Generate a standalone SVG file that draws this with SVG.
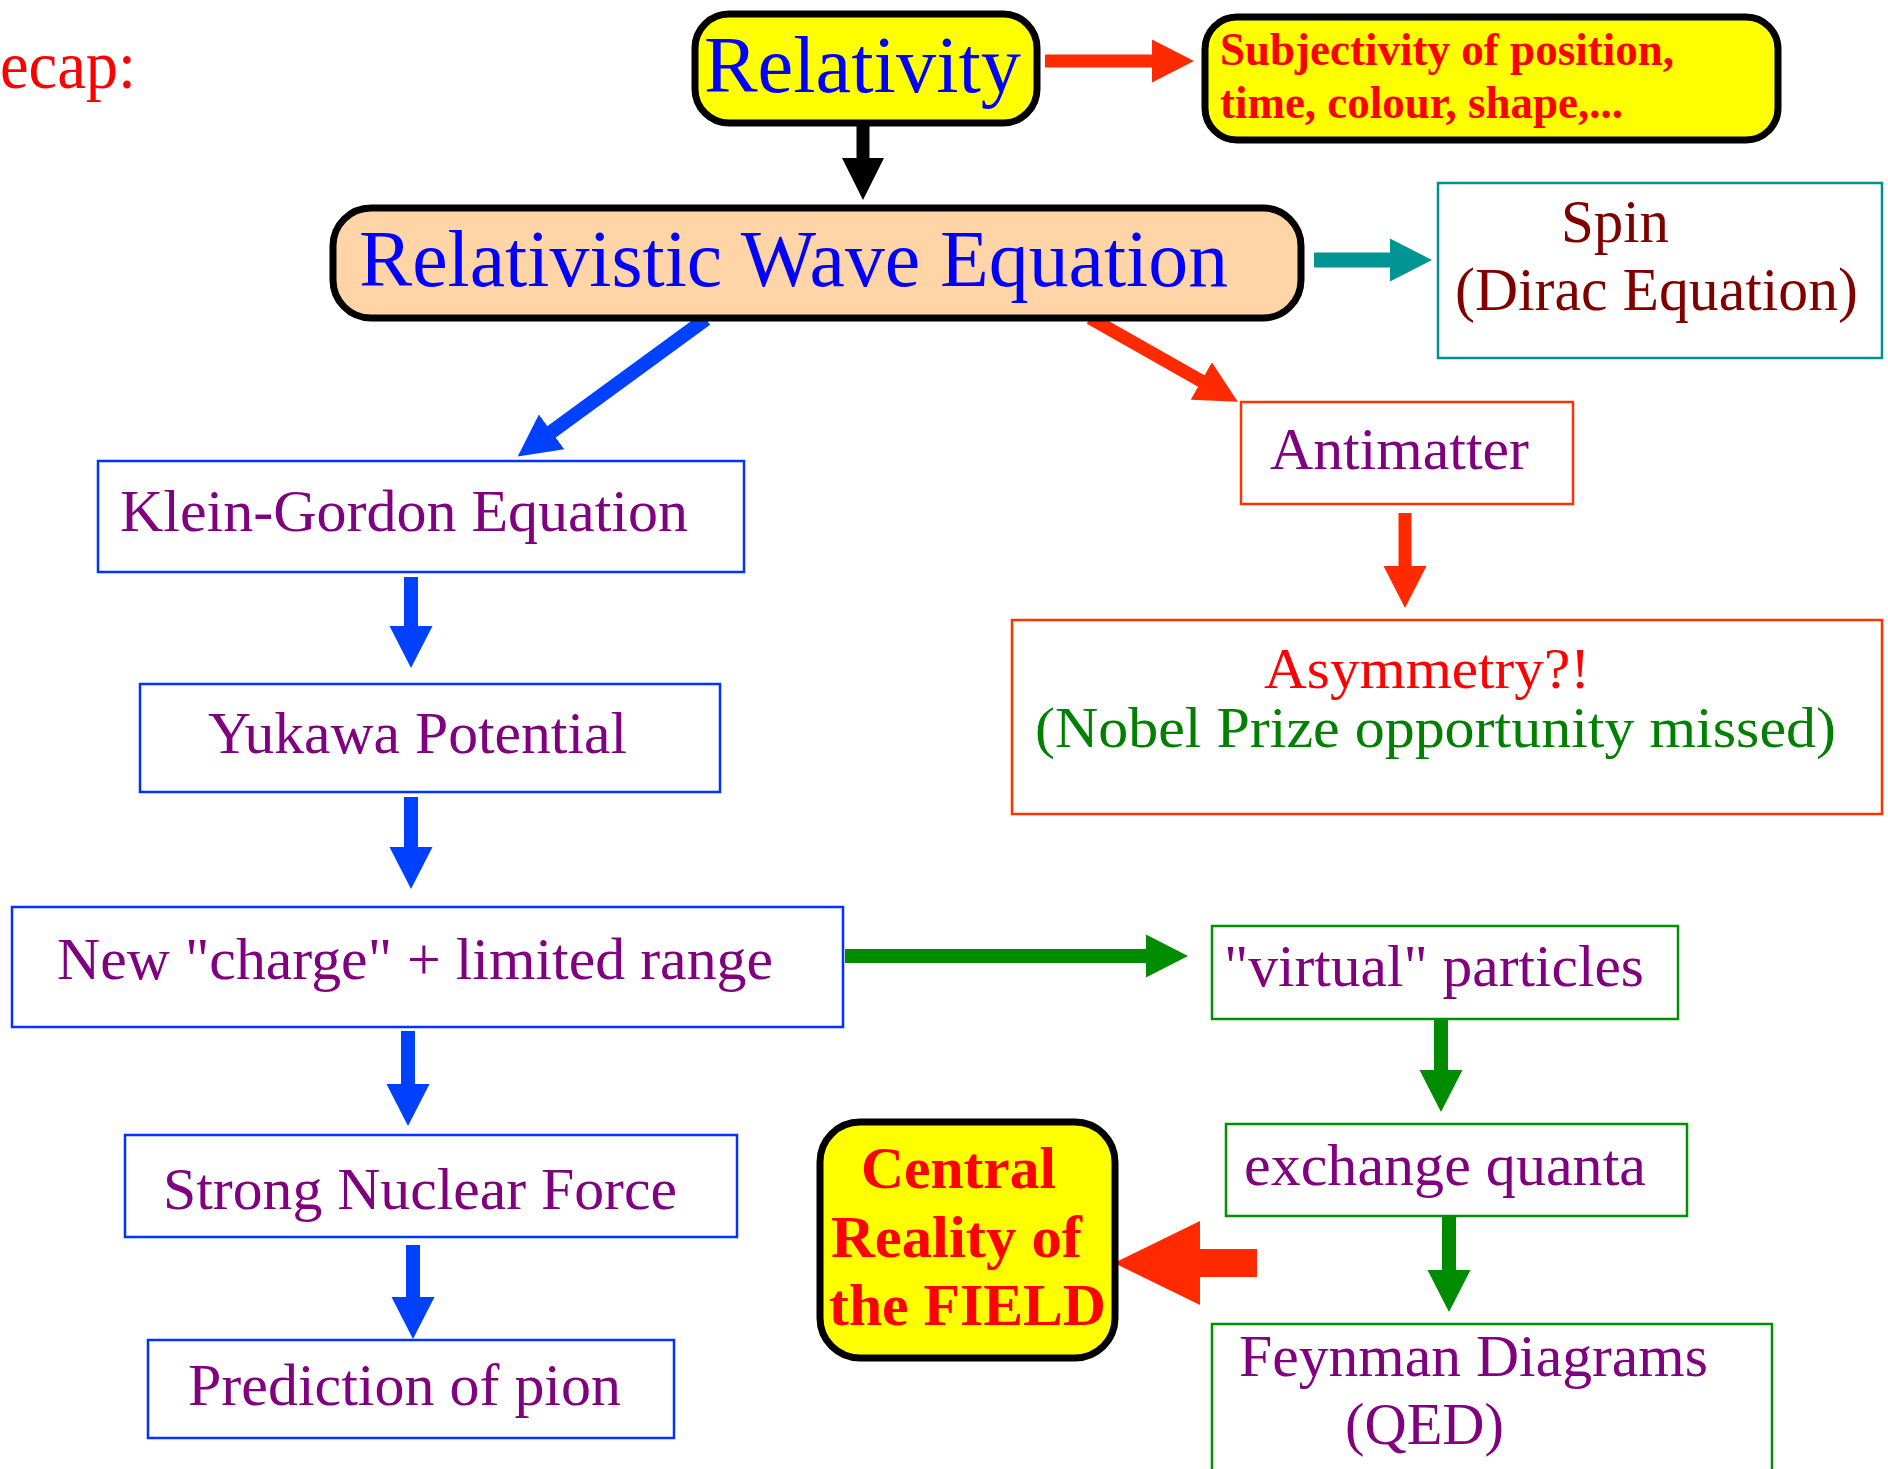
<svg xmlns="http://www.w3.org/2000/svg" width="1888" height="1469" viewBox="0 0 1888 1469">
<style>
  text { font-family: "Liberation Serif", "Times New Roman", serif; }
  .b { font-weight: bold; }
  .purple { fill: #800080; font-size: 60px; }
  .hi { fill: #FFFF00; stroke: #000; stroke-width: 7; }
  .boxb { fill: #fff; stroke: #0033FF; stroke-width: 2.5; }
  .boxr { fill: #fff; stroke: #FF3300; stroke-width: 2.5; }
  .boxg { fill: #fff; stroke: #009000; stroke-width: 2.5; }
  .boxt { fill: #fff; stroke: #009090; stroke-width: 2.5; }
  .sb { stroke: #0040FF; stroke-width: 14; marker-end: url(#hb); }
  .sr { stroke: #FF2A00; stroke-width: 13; marker-end: url(#hr); }
  .sg { stroke: #008C00; stroke-width: 14; marker-end: url(#hg); }
  .st { stroke: #009494; stroke-width: 15; marker-end: url(#ht); }
  .sk { stroke: #000; stroke-width: 13; marker-end: url(#hk); }
</style>
<defs>
  <marker id="hb" markerUnits="userSpaceOnUse" markerWidth="44" markerHeight="44" viewBox="0 0 44 44" refX="2" refY="22" orient="auto"><path d="M0,0.5 L42,22 L0,43.5 z" fill="#0040FF"/></marker>
  <marker id="hr" markerUnits="userSpaceOnUse" markerWidth="44" markerHeight="44" viewBox="0 0 44 44" refX="2" refY="22" orient="auto"><path d="M0,0.5 L42,22 L0,43.5 z" fill="#FF2A00"/></marker>
  <marker id="hg" markerUnits="userSpaceOnUse" markerWidth="44" markerHeight="44" viewBox="0 0 44 44" refX="2" refY="22" orient="auto"><path d="M0,0.5 L42,22 L0,43.5 z" fill="#008C00"/></marker>
  <marker id="ht" markerUnits="userSpaceOnUse" markerWidth="44" markerHeight="44" viewBox="0 0 44 44" refX="2" refY="22" orient="auto"><path d="M0,0.5 L42,22 L0,43.5 z" fill="#009494"/></marker>
  <marker id="hk" markerUnits="userSpaceOnUse" markerWidth="44" markerHeight="44" viewBox="0 0 44 44" refX="2" refY="22" orient="auto"><path d="M0,1 L42,22 L0,43 z" fill="#000"/></marker>
</defs>
<rect width="1888" height="1469" fill="#fff"/>

<text x="0" y="88" font-size="68" fill="#FF0000" textLength="136" lengthAdjust="spacingAndGlyphs">ecap:</text>

<g id="connectors">
  <line class="sk" x1="863" y1="124" x2="863" y2="160"/>
  <line class="sr" x1="1045" y1="61" x2="1154" y2="61"/>
  <line class="st" x1="1314" y1="260" x2="1392" y2="260"/>
  <line class="sb" x1="706" y1="319" x2="550" y2="433"/>
  <line class="sr" x1="1090" y1="318" x2="1203" y2="382"/>
  <line class="sb" x1="411" y1="577" x2="411" y2="628"/>
  <line class="sb" x1="411" y1="797" x2="411" y2="849"/>
  <line class="sb" x1="408" y1="1031" x2="408" y2="1086"/>
  <line class="sb" x1="413" y1="1245" x2="413" y2="1299"/>
  <line class="sr" x1="1405" y1="513" x2="1405" y2="568"/>
  <line class="sg" x1="845" y1="956" x2="1148" y2="956"/>
  <line class="sg" x1="1441" y1="1018" x2="1441" y2="1072"/>
  <line class="sg" x1="1449" y1="1216" x2="1449" y2="1272"/>
  <polygon points="1257,1249 1200,1249 1200,1221 1114,1263 1200,1305 1200,1277 1257,1277" fill="#FF2A00"/>
</g>

<g id="relativity">
  <rect class="hi" x="695" y="14" width="342" height="109" rx="34"/>
  <text x="704" y="92" font-size="80" fill="#0000FF" textLength="317" lengthAdjust="spacingAndGlyphs">Relativity</text>
</g>

<g id="subjectivity">
  <rect class="hi" x="1205" y="17" width="573" height="123" rx="32"/>
  <text class="b" x="1220" y="65" font-size="47" fill="#FF0000" textLength="454" lengthAdjust="spacingAndGlyphs">Subjectivity of position,</text>
  <text class="b" x="1220" y="118" font-size="47" fill="#FF0000" textLength="403" lengthAdjust="spacingAndGlyphs">time, colour, shape,...</text>
</g>

<g id="rwe">
  <rect x="333" y="208" width="968" height="110" rx="38" fill="#FFD5A8" stroke="#000" stroke-width="7"/>
  <text x="359" y="286" font-size="80" fill="#0000FF" textLength="869" lengthAdjust="spacingAndGlyphs">Relativistic Wave Equation</text>
</g>

<g id="spin">
  <rect class="boxt" x="1438" y="183" width="444" height="175"/>
  <text x="1561" y="242" font-size="62" fill="#800000" textLength="108" lengthAdjust="spacingAndGlyphs">Spin</text>
  <text x="1455" y="310" font-size="62" fill="#800000" textLength="403" lengthAdjust="spacingAndGlyphs">(Dirac Equation)</text>
</g>

<g id="klein-gordon">
  <rect class="boxb" x="98" y="461" width="646" height="111"/>
  <text class="purple" x="120" y="531" textLength="568" lengthAdjust="spacingAndGlyphs">Klein-Gordon Equation</text>
</g>

<g id="yukawa">
  <rect class="boxb" x="140" y="684" width="580" height="108"/>
  <text class="purple" x="208" y="753" textLength="419" lengthAdjust="spacingAndGlyphs">Yukawa Potential</text>
</g>

<g id="new-charge">
  <rect class="boxb" x="12" y="907" width="831" height="120"/>
  <text class="purple" x="57" y="979" textLength="716" lengthAdjust="spacingAndGlyphs">New "charge" + limited range</text>
</g>

<g id="strong">
  <rect class="boxb" x="125" y="1135" width="612" height="102"/>
  <text class="purple" x="163" y="1209" textLength="514" lengthAdjust="spacingAndGlyphs">Strong Nuclear Force</text>
</g>

<g id="prediction">
  <rect class="boxb" x="148" y="1340" width="526" height="98"/>
  <text class="purple" x="188" y="1405" textLength="433" lengthAdjust="spacingAndGlyphs">Prediction of pion</text>
</g>

<g id="antimatter">
  <rect class="boxr" x="1241" y="402" width="332" height="102"/>
  <text class="purple" x="1270" y="469" textLength="259" lengthAdjust="spacingAndGlyphs">Antimatter</text>
</g>

<g id="asymmetry">
  <rect class="boxr" x="1012" y="620" width="870" height="194"/>
  <text x="1264" y="688" font-size="58" fill="#FF0000" textLength="326" lengthAdjust="spacingAndGlyphs">Asymmetry?!</text>
  <text x="1035" y="747" font-size="58" fill="#008000" textLength="801" lengthAdjust="spacingAndGlyphs">(Nobel Prize opportunity missed)</text>
</g>

<g id="virtual">
  <rect class="boxg" x="1212" y="926" width="466" height="93"/>
  <text class="purple" x="1224" y="986" textLength="420" lengthAdjust="spacingAndGlyphs">"virtual" particles</text>
</g>

<g id="exchange">
  <rect class="boxg" x="1226" y="1124" width="461" height="92"/>
  <text class="purple" x="1244" y="1185" textLength="402" lengthAdjust="spacingAndGlyphs">exchange quanta</text>
</g>

<g id="feynman">
  <rect class="boxg" x="1212" y="1324" width="560" height="160"/>
  <text class="purple" x="1239" y="1376" textLength="469" lengthAdjust="spacingAndGlyphs">Feynman Diagrams</text>
  <text class="purple" x="1345" y="1444" textLength="159" lengthAdjust="spacingAndGlyphs">(QED)</text>
</g>

<g id="central">
  <rect class="hi" x="820" y="1122" width="295" height="236" rx="40"/>
  <text class="b" x="861" y="1188" font-size="60" fill="#FF0000" textLength="195" lengthAdjust="spacingAndGlyphs">Central</text>
  <text class="b" x="831" y="1257" font-size="60" fill="#FF0000" textLength="251" lengthAdjust="spacingAndGlyphs">Reality of</text>
  <text class="b" x="829" y="1325" font-size="60" fill="#FF0000" textLength="277" lengthAdjust="spacingAndGlyphs">the FIELD</text>
</g>
</svg>
